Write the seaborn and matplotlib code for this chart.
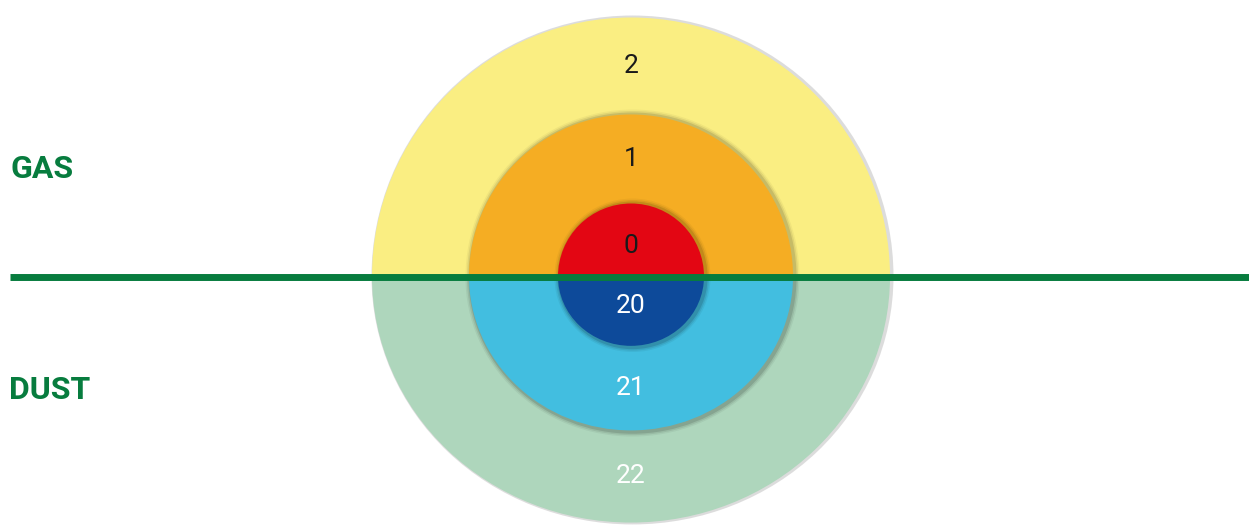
import matplotlib
matplotlib.use("Agg")
import matplotlib.pyplot as plt
from matplotlib.patches import Wedge
from matplotlib.transforms import Affine2D
import seaborn as sns

# ---- data ----
gas_zones = ["0", "1", "2"]
gas_radii = [73, 162, 259]
gas_colors = ["#E30613", "#F5AD23", "#FAEE82"]
gas_text_colors = ["#1a1a1a", "#1a1a1a", "#1a1a1a"]

dust_zones = ["20", "21", "22"]
dust_radii = [73, 162, 259]
dust_colors = ["#0D4A9A", "#42BEE0", "#AED6BC"]
dust_text_colors = ["white", "white", "white"]

group_labels = ["GAS", "DUST"]

# ---- layout ----
W, H = 1249, 525
cx, cy = 631, 276.5
dust_squash = 0.95
line_color = "#077C3E"

sns.set_theme(style="white")
plt.rcParams["font.family"] = ["Roboto", "DejaVu Sans"]

fig = plt.figure(figsize=(W / 100, H / 100), dpi=100)
ax = fig.add_axes([0, 0, 1, 1])
ax.set_xlim(0, W)
ax.set_ylim(H, 0)
ax.set_aspect("equal")
ax.axis("off")

order = list(range(len(gas_radii)))[::-1]

# gas (top half)
for i in order:
    r = gas_radii[i]
    if i < len(gas_radii) - 1:
        for k, a in [(5, 0.04), (3.5, 0.07), (2, 0.11)]:
            ax.add_patch(Wedge((cx + 1.5, cy), r + k, 180, 360, color="black", alpha=a, lw=0, zorder=2 * (3 - i)))
    else:
        ax.add_patch(Wedge((cx + 1.5, cy), r + 2, 180, 360, color="#bbbbbb", alpha=0.5, lw=0, zorder=2 * (3 - i)))
    ax.add_patch(Wedge((cx, cy), r, 180, 360, color=gas_colors[i], lw=0, zorder=2 * (3 - i) + 1))

# dust (bottom half, slightly squashed)
tr = Affine2D().translate(-cx, -cy).scale(1, dust_squash).translate(cx, cy) + ax.transData
for i in order:
    r = dust_radii[i]
    if i < len(dust_radii) - 1:
        for k, a in [(5, 0.05), (3.5, 0.08), (2, 0.12)]:
            w = Wedge((cx + 1.5, cy + 1.5), r + k, 0, 180, color="black", alpha=a, lw=0, zorder=2 * (3 - i))
            w.set_transform(tr)
            ax.add_patch(w)
    else:
        w = Wedge((cx + 1.5, cy), r + 2, 0, 180, color="#bbbbbb", alpha=0.5, lw=0, zorder=2 * (3 - i))
        w.set_transform(tr)
        ax.add_patch(w)
    w = Wedge((cx, cy), r, 0, 180, color=dust_colors[i], lw=0, zorder=2 * (3 - i) + 1)
    w.set_transform(tr)
    ax.add_patch(w)

# zone labels
def label_radius(radii, i):
    if i == 0:
        return 0.42 * radii[0]
    return (radii[i - 1] + radii[i]) / 2

for i, z in enumerate(gas_zones):
    ax.text(cx, cy - label_radius(gas_radii, i), z, ha="center", va="center",
            fontsize=19, color=gas_text_colors[i], zorder=20)
for i, z in enumerate(dust_zones):
    ax.text(cx, cy + label_radius(dust_radii, i) * dust_squash, z, ha="center", va="center",
            fontsize=19, color=dust_text_colors[i], zorder=20)

# divider line
ax.plot([10, W], [cy, cy], color=line_color, lw=5, solid_capstyle="butt", zorder=15)

# group labels
ax.text(11, 169, group_labels[0], ha="left", va="center", fontsize=23, fontweight="bold",
        color=line_color, zorder=20)
ax.text(9, 390, group_labels[1], ha="left", va="center", fontsize=23, fontweight="bold",
        color=line_color, zorder=20)

fig.savefig("out.png", dpi=100, facecolor="white")
